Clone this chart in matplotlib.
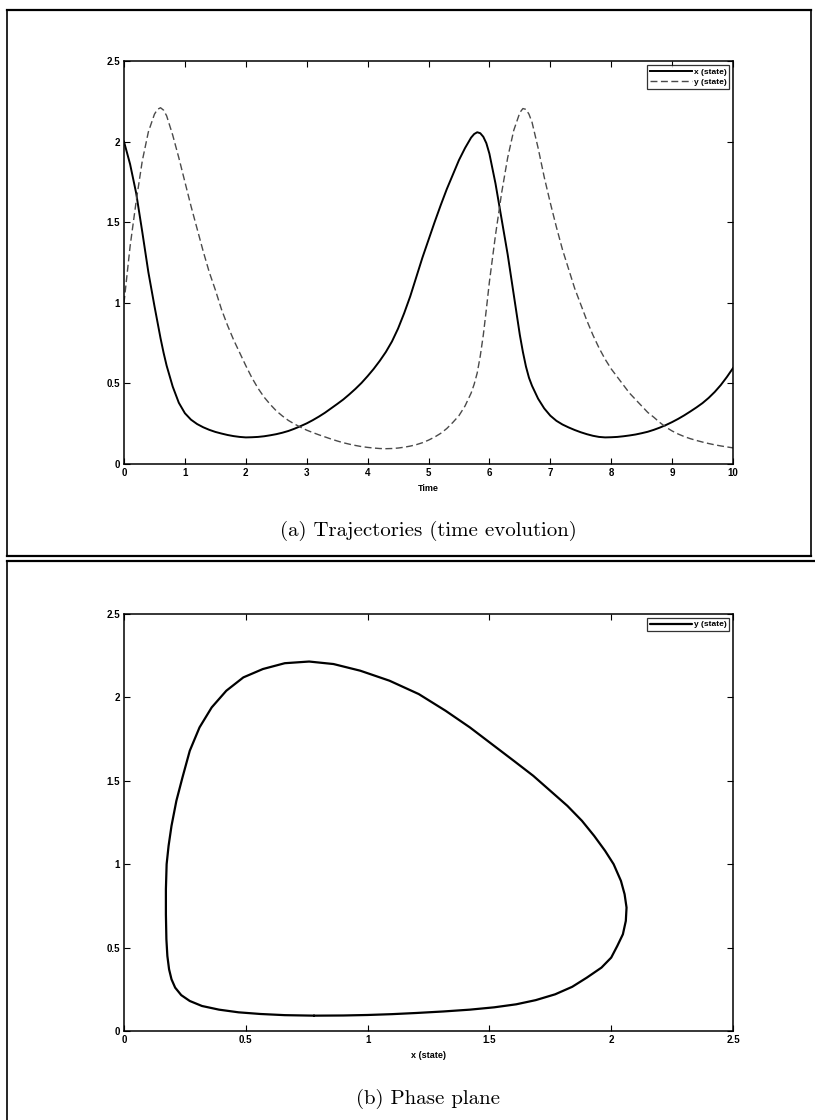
import numpy as np
import matplotlib
matplotlib.use("Agg")
import matplotlib.pyplot as plt
from matplotlib.lines import Line2D

# sample times of the trajectories (step 0.1, a few extra points at the peaks)
time = np.sort(np.concatenate([np.linspace(0, 10, 101),
                               [0.55, 0.65, 5.75, 5.85, 5.95, 6.55, 6.65]]))

x_state = [2.00, 1.86, 1.68, 1.44, 1.19, 0.98, 0.88, 0.78, 0.69, 0.61, 0.48, 0.38,
           0.315, 0.275, 0.248, 0.228, 0.212, 0.199, 0.189, 0.180, 0.173, 0.168,
           0.165, 0.166, 0.168, 0.172, 0.178, 0.185, 0.194, 0.205, 0.219, 0.235,
           0.252, 0.272, 0.294, 0.318, 0.345, 0.372, 0.400, 0.432, 0.466, 0.503,
           0.545, 0.590, 0.640, 0.695, 0.760, 0.840, 0.935, 1.040, 1.160, 1.280,
           1.390, 1.500, 1.605, 1.705, 1.795, 1.885, 1.960, 2.025, 2.047, 2.058,
           2.052, 2.030, 1.990,
           1.925, 1.740, 1.520, 1.300, 1.050, 0.800, 0.695, 0.605, 0.535, 0.485,
           0.405, 0.345,
           0.300, 0.268, 0.245, 0.227, 0.211, 0.197, 0.185, 0.175, 0.168, 0.165,
           0.166, 0.168, 0.172, 0.177, 0.183, 0.191, 0.200, 0.212, 0.226, 0.242,
           0.260, 0.280, 0.302, 0.326, 0.351, 0.378, 0.410, 0.447, 0.490, 0.540,
           0.595]

y_state = [1.00, 1.35, 1.63, 1.88, 2.06, 2.17, 2.20, 2.21, 2.195, 2.16, 2.04, 1.90,
           1.75, 1.60, 1.46, 1.32, 1.19, 1.08, 0.96, 0.86, 0.77, 0.69,
           0.61, 0.535, 0.47, 0.415, 0.37, 0.33, 0.298, 0.27, 0.248, 0.228,
           0.21, 0.195, 0.181, 0.168, 0.155, 0.143, 0.132, 0.123, 0.115, 0.108,
           0.103, 0.099, 0.096, 0.095, 0.096, 0.099, 0.104, 0.111, 0.120, 0.132,
           0.148, 0.167, 0.19, 0.22, 0.258, 0.30, 0.36, 0.44, 0.495, 0.565,
           0.67, 0.80, 0.96,
           1.13, 1.42, 1.68, 1.90, 2.07, 2.18, 2.205, 2.20, 2.17, 2.12,
           1.96, 1.78,
           1.62, 1.47, 1.33, 1.21, 1.09, 0.99, 0.89, 0.80, 0.72, 0.65,
           0.59, 0.54, 0.49, 0.44, 0.40, 0.36, 0.32, 0.29, 0.257, 0.228,
           0.205, 0.186, 0.170, 0.157, 0.146, 0.136, 0.127, 0.119, 0.112, 0.106,
           0.100]

# closed orbit in the phase plane (starts at the bottom of the loop)
phase_x = [0.78, 0.90, 1.00, 1.10, 1.20,
           1.31, 1.42, 1.52, 1.61, 1.69, 1.77, 1.84, 1.90, 1.96, 2.00,
           2.025, 2.048, 2.06, 2.063, 2.055, 2.04, 2.01, 1.975, 1.93, 1.88,
           1.82, 1.75, 1.68, 1.60, 1.51, 1.42, 1.32, 1.21, 1.09, 0.97,
           0.86, 0.76, 0.66, 0.57, 0.49, 0.42, 0.36, 0.31, 0.27, 0.24,
           0.215, 0.195, 0.183, 0.175, 0.172, 0.172, 0.174, 0.178, 0.185,
           0.195, 0.21, 0.235, 0.27, 0.32, 0.39, 0.47, 0.56, 0.66, 0.78]
phase_y = [0.092, 0.093, 0.096, 0.101, 0.108,
           0.117, 0.128, 0.142, 0.16, 0.185, 0.22, 0.265, 0.32, 0.38, 0.44,
           0.51, 0.58, 0.66, 0.74, 0.82, 0.90, 1.00, 1.08, 1.17, 1.26,
           1.35, 1.44, 1.53, 1.62, 1.72, 1.82, 1.92, 2.02, 2.10, 2.16,
           2.20, 2.215, 2.205, 2.17, 2.12, 2.04, 1.94, 1.82, 1.68, 1.52,
           1.38, 1.23, 1.11, 1.00, 0.85, 0.70, 0.55, 0.45, 0.37,
           0.31, 0.26, 0.215, 0.18, 0.15, 0.128, 0.112, 0.102, 0.095, 0.092]

tick_vals = [0, 0.5, 1, 1.5, 2, 2.5]
tick_text = ["0", "0.5", "1", "1.5", "2", "2.5"]
time_ticks = list(range(11))

plt.rcParams['font.family'] = ['Liberation Sans', 'DejaVu Sans']
plt.rcParams['font.weight'] = 'bold'
plt.rcParams['axes.labelweight'] = 'bold'

W, H = 815, 1120
fig = plt.figure(figsize=(W / 100, H / 100), dpi=100)


def box(px_left, px_top, px_right, px_bottom):
    return [px_left / W, 1 - px_bottom / H, (px_right - px_left) / W, (px_bottom - px_top) / H]


def style(ax):
    ax.tick_params(direction='in', top=True, right=True, length=4, width=0.8,
                   labelsize=7, pad=3)
    for s in ax.spines.values():
        s.set_linewidth(1.1)


# (a) trajectories
ax1 = fig.add_axes(box(124, 61, 733, 464))
ax1.plot(time, x_state, color='black', lw=1.4, label='x (state)',
         solid_joinstyle='round')
ax1.plot(time, y_state, color='#4a4a4a', lw=1.0, dashes=(5, 2.5), label='y (state)')
ax1.set_xlim(0, 10)
ax1.set_ylim(0, 2.5)
ax1.set_xticks(time_ticks)
ax1.set_xticklabels([str(t) for t in time_ticks])
ax1.set_yticks(tick_vals)
ax1.set_yticklabels(tick_text)
ax1.set_xlabel('Time', fontsize=6.5, labelpad=4)
style(ax1)
leg = ax1.legend(loc='upper right', fontsize=6, fancybox=False, edgecolor='black',
                 handlelength=5.0, handletextpad=0.2, borderpad=0.35,
                 labelspacing=0.35, borderaxespad=0.45)
leg.get_frame().set_linewidth(0.9)

# (b) phase plane
ax2 = fig.add_axes(box(124, 614, 733, 1031))
ax2.plot(phase_x, phase_y, color='black', lw=1.6, label='y (state)',
         solid_joinstyle='round', solid_capstyle='round')
ax2.set_xlim(0, 2.5)
ax2.set_ylim(0, 2.5)
ax2.set_xticks(tick_vals)
ax2.set_xticklabels(tick_text)
ax2.set_yticks(tick_vals)
ax2.set_yticklabels(tick_text)
ax2.set_xlabel('x (state)', fontsize=6.5, labelpad=4)
style(ax2)
leg2 = ax2.legend(loc='upper right', fontsize=6, fancybox=False, edgecolor='black',
                  handlelength=5.0, handletextpad=0.2, borderpad=0.35,
                  borderaxespad=0.45)
leg2.get_frame().set_linewidth(0.9)

# sub-figure captions
fig.text(428 / W, 1 - 531 / H, '(a) Trajectories (time evolution)', family='cmr10',
         fontweight='normal', fontsize=15, ha='center', va='center')
fig.text(428 / W, 1 - 1099 / H, '(b) Phase plane', family='cmr10',
         fontweight='normal', fontsize=15, ha='center', va='center')


# panel frames
def hline(y, x0, x1, lw=1.6):
    fig.add_artist(Line2D([x0 / W, x1 / W], [1 - y / H, 1 - y / H], color='black', lw=lw))


def vline(x, y0, y1, lw=1.2):
    fig.add_artist(Line2D([x / W, x / W], [1 - y0 / H, 1 - y1 / H], color='black', lw=lw))


hline(10, 7, 811)
hline(556, 7, 811)
vline(7, 10, 556)
vline(811, 10, 556)
hline(561, 7, 815)
vline(7, 561, 1120)

fig.savefig('out.png', dpi=100)
